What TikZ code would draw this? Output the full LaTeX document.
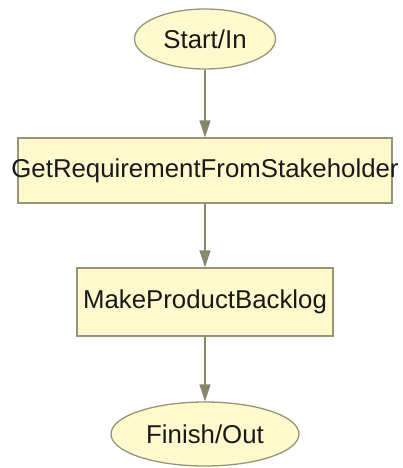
\documentclass[tikz,border=0pt]{standalone}
\usepackage{fontspec}
\setmainfont{Liberation Sans}
\usetikzlibrary{shapes.geometric,arrows.meta}
\definecolor{nodefill}{RGB}{255,249,205}
\definecolor{nodeline}{RGB}{150,150,118}
\definecolor{arrowcol}{RGB}{135,135,108}
\definecolor{txt}{RGB}{25,25,25}
\tikzset{
  base/.style={draw=nodeline, fill=nodefill, line width=1.3pt, inner sep=0pt, text=txt,
    font=\fontsize{25.8}{28}\selectfont},
  oval/.style={base, ellipse},
  box/.style={base, rectangle},
  flow/.style={draw=arrowcol, line width=1.5pt, -{Triangle[length=17pt,width=11pt]}}
}
\begin{document}
\begin{tikzpicture}[x=1pt,y=-1pt]
\useasboundingbox (0,0) rectangle (403,468);
\node[oval, minimum width=141pt, minimum height=60pt] (start) at (205,39) {Start/In};
\node[box, minimum width=374pt, minimum height=65pt] (req) at (205,170.5) {\makebox[374pt][c]{GetRequirementFromStakeholder}};
\node[box, minimum width=256pt, minimum height=68pt] (mpb) at (205,302) {MakeProductBacklog};
\node[oval, minimum width=188pt, minimum height=64pt] (fin) at (205,434) {Finish/Out};
\draw[flow] (start) -- (req);
\draw[flow] (req) -- (mpb);
\draw[flow] (mpb) -- (fin);
\end{tikzpicture}
\end{document}
